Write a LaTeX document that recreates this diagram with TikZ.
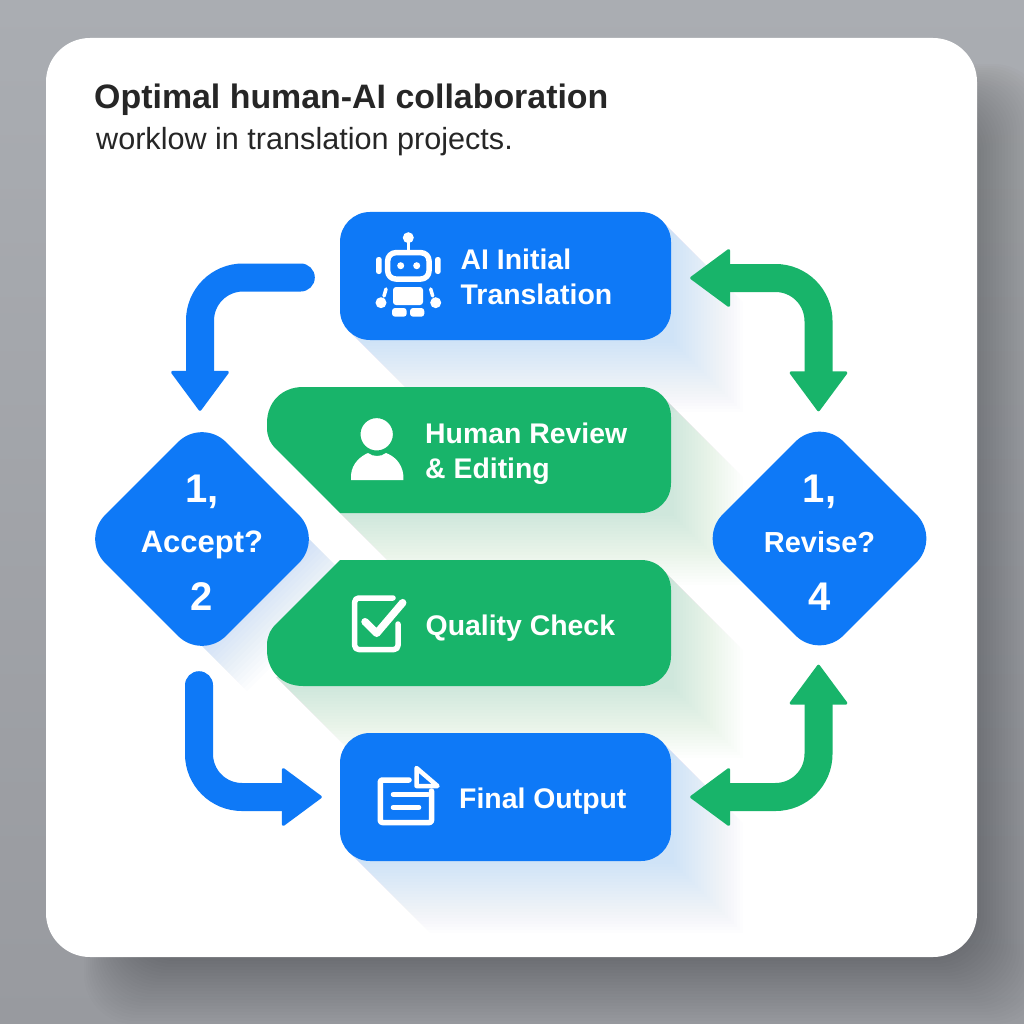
\documentclass[tikz,border=0pt]{standalone}
\usepackage{fontspec}
\setmainfont{Liberation Sans}
\usetikzlibrary{arrows.meta,shapes.geometric}
\definecolor{flowblue}{HTML}{0E79F7}
\definecolor{flowgreen}{HTML}{18B46A}
\definecolor{inktext}{HTML}{262626}
\definecolor{backtop}{HTML}{AAADB2}
\definecolor{backbottom}{HTML}{989A9F}
\newcommand{\fs}[1]{\fontsize{#1}{#1}\selectfont}
\newcommand{\humanpath}{(340,513) -- (276,449) .. controls (270,443) and (267,436) .. (267,428) -- (267,423) .. controls (267,402) and (282,387) .. (303,387) -- (641,387) .. controls (658,387) and (671,400) .. (671,417) -- (671,483) .. controls (671,500) and (658,513) .. (641,513) -- cycle}
\newcommand{\qualitypath}{(340,560) -- (276,624) .. controls (270,630) and (267,637) .. (267,645) -- (267,650) .. controls (267,671) and (282,686) .. (303,686) -- (641,686) .. controls (658,686) and (671,673) .. (671,656) -- (671,590) .. controls (671,573) and (658,560) .. (641,560) -- cycle}
\newcommand{\longshadow}[5]{\foreach \t in {3,6,...,72}{\fill[#5,opacity=0.009] (#3-9,#2+9) -- (#3+\t,#2+18+\t) -- (#3+\t,#4+\t) -- (#1+18+\t,#4+\t) -- (#1+9,#4-9) -- cycle;}}
\tikzset{
    bluebox/.style={rectangle, fill=flowblue, rounded corners=30pt, minimum width=331pt, minimum height=128pt, inner sep=0pt},
    decision/.style={diamond, fill=flowblue, rounded corners=34pt, minimum width=242pt, minimum height=242pt, inner sep=0pt},
    boxlabel/.style={text=white, font=\fs{28.4}\bfseries, anchor=base west, inner sep=0pt},
    biglabel/.style={text=white, font=\fs{40}\bfseries, anchor=base, inner sep=0pt},
    asklabel/.style={text=white, font=\fs{29}\bfseries, anchor=base, inner sep=0pt},
    flowarrow/.style={line width=28pt, rounded corners=43pt, line cap=round},
    bluearrow/.style={flowarrow, flowblue, -{Triangle[length=41pt,width=60pt,round,line width=3pt]}},
    greenarrow/.style={flowarrow, flowgreen, {Triangle[length=41pt,width=60pt,round,line width=3pt]}-{Triangle[length=41pt,width=60pt,round,line width=3pt]}},
    iconline/.style={draw=white, line width=5.5pt, line cap=round, line join=round},
}
\begin{document}
\begin{tikzpicture}[x=1pt,y=-1pt]
    \useasboundingbox (0,0) rectangle (1024,1024);
    \shade[top color=backtop, bottom color=backbottom] (0,0) rectangle (1024,1024);
    \foreach \s in {0,...,23}
        \fill[black,opacity=0.012,rounded corners=50pt] (130-2*\s,110-2*\s) rectangle (975+3*\s,955+3*\s);
    \fill[white,rounded corners=44pt] (46,38) rectangle (977,957);

    \longshadow{340}{212}{671}{340}{flowblue}
    \longshadow{322}{387}{671}{513}{flowgreen}
    \longshadow{267}{560}{671}{686}{flowgreen}
    \longshadow{340}{733}{671}{861}{flowblue}
    \foreach \t in {3,6,...,45}
        \fill[flowblue,opacity=0.012] (309,539) -- (309+\t,539+\t) -- (202+\t,646+\t) -- (202,646) -- cycle;

    \node[anchor=base west, inner sep=0pt, text=inktext, font=\fs{33.9}\bfseries] (title) at (94,109) {Optimal human-AI collaboration};
    \node[anchor=base west, inner sep=0pt, text=inktext, font=\fs{30.6}] (subtitle) at (96,150) {worklow in translation projects.};

    \node[bluebox] (aibox) at (505.5,276) {};
    \node[bluebox] (finalbox) at (505.5,797) {};
    \fill[flowgreen] \humanpath;
    \fill[flowgreen] \qualitypath;
    \node[decision] (accept) at (202,539) {};
    \node[decision] (revise) at (819.5,538.5) {};

    \node[boxlabel] (ailine) at (460.5,269.5) {AI Initial};
    \node[boxlabel] (translationline) at (460.5,304) {Translation};
    \node[boxlabel] (humanline) at (425,443.5) {Human Review};
    \node[boxlabel] (editingline) at (425,478) {\& Editing};
    \node[boxlabel] (qualityline) at (425.5,635) {Quality Check};
    \node[boxlabel] (finalline) at (459,808) {Final Output};

    \node[biglabel] (acceptone) at (202,502) {1,};
    \node[asklabel, font=\fs{31}\bfseries] (acceptask) at (202,552) {Accept?};
    \node[biglabel] (accepttwo) at (202,610) {2};
    \node[biglabel] (reviseone) at (819.5,502) {1,};
    \node[asklabel] (reviseask) at (819.5,552) {Revise?};
    \node[biglabel] (revisefour) at (819.5,610) {4};

    \draw[bluearrow] ([shift={(-39pt,-1.5pt)}]aibox.west) -| ([shift={(-2pt,7pt)}]accept.north);
    \draw[bluearrow] ([shift={(-3pt,-25pt)}]accept.south) |- ([xshift=-18pt]finalbox.west);
    \draw[greenarrow] ([shift={(19pt,-2pt)}]aibox.east) -| ([shift={(-1pt,6pt)}]revise.north);
    \draw[greenarrow] ([shift={(-1pt,-5pt)}]revise.south) |- ([xshift=19pt]finalbox.east);

    \fill[white] (408.3,237.7) circle (5.5);
    \draw[iconline,line width=3.5pt] (408.3,240) -- (408.3,251);
    \draw[iconline,rounded corners=8pt] (387.7,252.7) rectangle (429,279);
    \fill[white] (400.7,265.7) circle (3.5) (416.7,265.7) circle (3.5);
    \fill[white,rounded corners=2.5pt] (376,257) rectangle (381.7,274) (435,257) rectangle (440.7,274);
    \fill[white,rounded corners=3pt] (393,287) rectangle (423,305);
    \fill[white] (381,302.7) circle (5.5) (435.7,302.7) circle (5.5);
    \draw[iconline,line width=3.5pt] (386,289) -- (384,296) (430.7,289) -- (432.7,296);
    \fill[white,rounded corners=3pt] (392,308) rectangle (406.7,316.7) (410,308) rectangle (424.3,316.7);

    \fill[white] (351,480) -- (351,475) .. controls (352,463) and (361,456) .. (368,453) .. controls (373,457) and (381,457) .. (386,453) .. controls (394,456) and (402,463) .. (403.3,475) -- (403.3,480) -- cycle;
    \fill[white,draw=flowgreen,line width=2pt] (376.7,434.3) circle (17.2);

    \draw[iconline,rounded corners=4pt] (393,598) -- (354.7,598) -- (354.7,649.5) -- (398,649.5) -- (398,624);
    \draw[iconline,line width=7.5pt] (365,621.7) -- (376.7,633.3) -- (402.7,602.7);

    \draw[iconline,rounded corners=2pt] (409,780) -- (380.3,780) -- (380.3,822.5) -- (431.5,822.5) -- (431.5,791);
    \draw[iconline,line width=4.5pt] (416.5,768) -- (437.5,786) -- (416.5,786) -- cycle;
    \draw[iconline,line width=4.5pt] (393,794.5) -- (428,794.5) (393,807.5) -- (419,807.5);
\end{tikzpicture}
\end{document}
